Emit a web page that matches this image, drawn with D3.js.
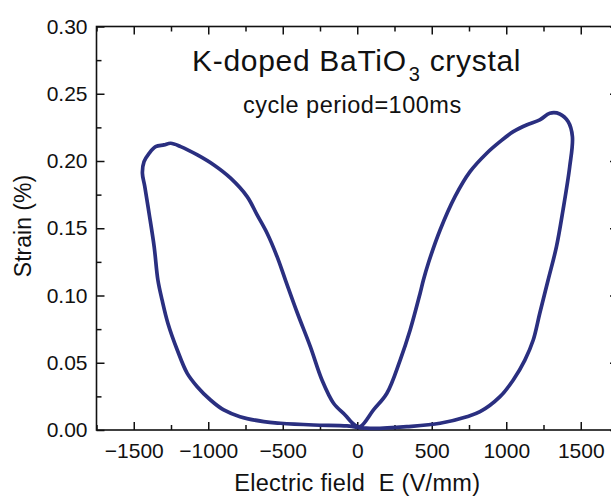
<!DOCTYPE html>
<html>
<head>
<meta charset="utf-8">
<script src="https://cdn.jsdelivr.net/npm/d3@7"></script>
<style>
  body { margin: 0; background: #fff; }
  svg { display: block; font-family: "Liberation Sans", Arial, sans-serif; }
</style>
</head>
<body>
<svg id="chart" width="611" height="498"></svg>
<script>
// butterfly loop (field in V/mm, strain in %)
// order: bottom-left -> left outer -> left top -> left inner -> right inner -> right top -> right outer -> bottom-right
var fieldE = [0, -69, -293, -516, -627, -787, -896, -985, -1074, -1141, -1208, -1271, -1310, -1338,
  -1363, -1397, -1426, -1442, -1431, -1397, -1353, -1297, -1252, -1185, -1073, -962, -850, -739, -672,
  -605, -538, -482, -402, -315, -236, -159, -80, -20,
  20, 109, 199, 288, 355, 422, 444, 477, 556, 656, 757, 869, 958, 1047, 1136, 1225, 1292, 1359, 1415, 1444,
  1426, 1381, 1337, 1281, 1225, 1181, 1125, 1047, 958, 824, 735, 556, 333, 109, 0];
var strain = [0.002, 0.003, 0.0037, 0.005, 0.0062, 0.0099, 0.0149, 0.0223, 0.0322, 0.0421, 0.0595, 0.0794, 0.0967, 0.1115,
  0.1363, 0.161, 0.181, 0.191, 0.1995, 0.2057, 0.2107, 0.212, 0.2132, 0.2107, 0.2045, 0.197, 0.1872, 0.1735, 0.1599,
  0.1463, 0.1289, 0.1115, 0.087, 0.062, 0.037, 0.0199, 0.011, 0.004,
  0.0025, 0.0149, 0.0273, 0.052, 0.0744, 0.1017, 0.1115, 0.124, 0.1487, 0.1735, 0.1921, 0.2058, 0.2144, 0.2218, 0.2268, 0.2305, 0.2355, 0.235, 0.2293, 0.2181,
  0.1958, 0.1636, 0.1363, 0.1115, 0.0868, 0.0669, 0.052, 0.0372, 0.0248, 0.0136, 0.0099, 0.005, 0.0025, 0.0012, 0.002];

var xMajor = [-1500, -1000, -500, 0, 500, 1000, 1500];
var xMinor = [-1750, -1250, -750, -250, 250, 750, 1250, 1750];
var yMajor = [0, 0.05, 0.10, 0.15, 0.20, 0.25, 0.30];
var yMinor = [0.025, 0.075, 0.125, 0.175, 0.225, 0.275];

var titleMain = "K-doped BaTiO", titleSub = "3", titleEnd = " crystal";
var subTitle = "cycle period=100ms";
var xTitle = "Electric field\u00a0\u00a0E (V/mm)";
var yTitle = "Strain (%)";

var svg = d3.select("#chart");
var pLeft = 96.5, pRight = 618, pTop = 26.5, pBottom = 430;

var x = d3.scaleLinear().domain([-1750, 1750]).range([pLeft, pRight]);
var y = d3.scaleLinear().domain([0, 0.30]).range([pBottom, pTop]);

// frame
svg.append("rect")
  .attr("x", pLeft).attr("y", pTop)
  .attr("width", pRight - pLeft).attr("height", pBottom - pTop)
  .attr("fill", "none").attr("stroke", "#111").attr("stroke-width", 1.6);

function styleAxis(g) {
  g.select(".domain").remove();
  g.selectAll(".tick line").attr("stroke", "#111").attr("stroke-width", 1.5);
  g.selectAll(".tick text").attr("fill", "#111").style("font-size", "21px")
    .style("font-family", '"Liberation Sans", Arial, sans-serif');
}

// bottom
svg.append("g").attr("transform", "translate(0," + pBottom + ")")
  .call(d3.axisBottom(x).tickValues(xMajor).tickSize(-8).tickPadding(13).tickFormat(d3.format("d")))
  .call(styleAxis);
svg.append("g").attr("transform", "translate(0," + pBottom + ")")
  .call(d3.axisBottom(x).tickValues(xMinor).tickSize(-5).tickFormat(""))
  .call(styleAxis);
// top
svg.append("g").attr("transform", "translate(0," + pTop + ")")
  .call(d3.axisTop(x).tickValues(xMajor).tickSize(-8).tickFormat(""))
  .call(styleAxis);
svg.append("g").attr("transform", "translate(0," + pTop + ")")
  .call(d3.axisTop(x).tickValues(xMinor).tickSize(-5).tickFormat(""))
  .call(styleAxis);
// left
svg.append("g").attr("transform", "translate(" + pLeft + ",0)")
  .call(d3.axisLeft(y).tickValues(yMajor).tickSize(-8).tickPadding(9).tickFormat(d3.format(".2f")))
  .call(styleAxis);
svg.append("g").attr("transform", "translate(" + pLeft + ",0)")
  .call(d3.axisLeft(y).tickValues(yMinor).tickSize(-5).tickFormat(""))
  .call(styleAxis);
// right
svg.append("g").attr("transform", "translate(" + pRight + ",0)")
  .call(d3.axisRight(y).tickValues(yMajor).tickSize(-8).tickFormat(""))
  .call(styleAxis);
svg.append("g").attr("transform", "translate(" + pRight + ",0)")
  .call(d3.axisRight(y).tickValues(yMinor).tickSize(-5).tickFormat(""))
  .call(styleAxis);

// curve
var pts = fieldE.map(function(e, i) { return [e, strain[i]]; });
var line = d3.line().x(function(d) { return x(d[0]); }).y(function(d) { return y(d[1]); })
  .curve(d3.curveCatmullRom.alpha(0.5));
svg.append("path").datum(pts)
  .attr("d", line)
  .attr("fill", "none")
  .attr("stroke", "#2a2f80")
  .attr("stroke-width", 3.7)
  .attr("stroke-linejoin", "round");

// titles
var t = svg.append("text").attr("x", 192).attr("y", 71)
  .style("font-size", "30px").style("letter-spacing", "0.7px").attr("fill", "#111");
t.append("tspan").text(titleMain);
t.append("tspan").attr("dy", 10).attr("dx", 2).style("font-size", "20px").text(titleSub);
t.append("tspan").attr("dy", -10).text(titleEnd);

svg.append("text").attr("x", 243).attr("y", 113)
  .style("font-size", "23.5px").style("letter-spacing", "0.5px").attr("fill", "#111").text(subTitle);

svg.append("text").attr("x", (pLeft + pRight) / 2).attr("y", 491)
  .attr("text-anchor", "middle").style("font-size", "23.5px").style("letter-spacing", "0.3px")
  .attr("fill", "#111").text(xTitle);

svg.append("text").attr("transform", "translate(31,226) rotate(-90)")
  .attr("text-anchor", "middle").style("font-size", "23px").attr("fill", "#111").text(yTitle);
</script>
</body>
</html>
